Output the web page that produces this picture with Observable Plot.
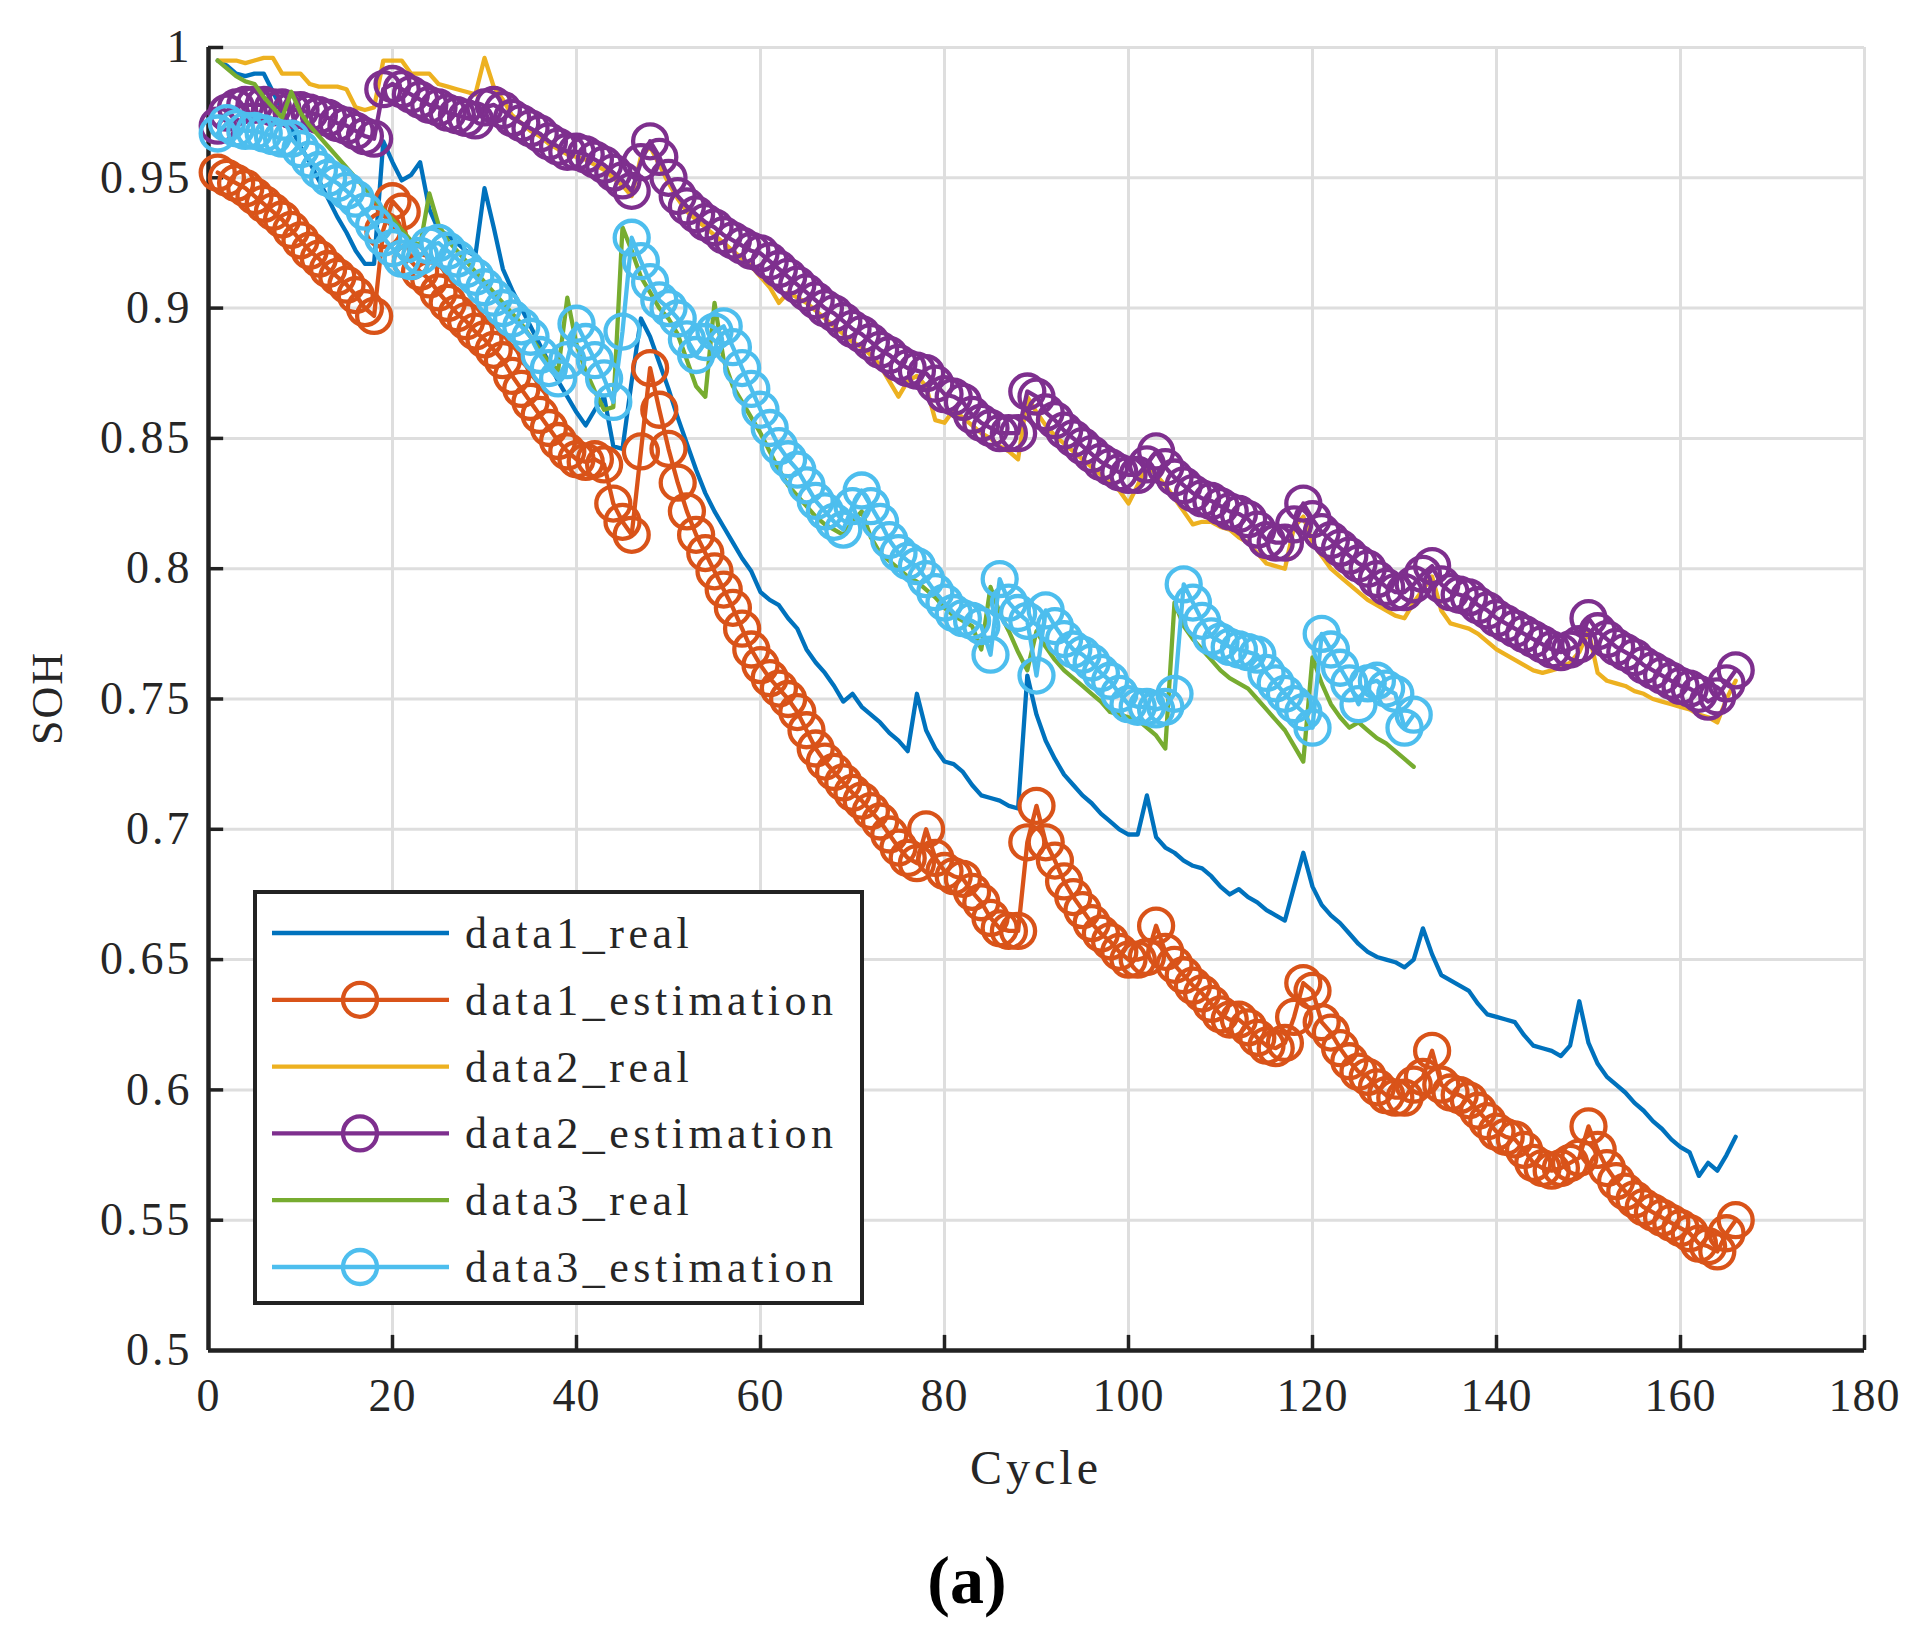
<!DOCTYPE html>
<html>
<head>
<meta charset="utf-8">
<script src="https://cdn.jsdelivr.net/npm/d3@7"></script>
<script src="https://cdn.jsdelivr.net/npm/@observablehq/plot@0.6"></script>
<style>
  html, body { margin: 0; padding: 0; background: #fff; }
  #wrap { position: relative; width: 1910px; height: 1650px; background: #fff; overflow: hidden; }
  #chart { position: absolute; left: 0; top: 0; }
  .lab { position: absolute; font-family: "Liberation Serif", "DejaVu Serif", serif; color: #262626; white-space: nowrap; }
  #legend { position: absolute; box-sizing: border-box; background: #fff; border: 4px solid #222; }
</style>
</head>
<body>
<div id="wrap">
  <div id="chart"></div>
  <div class="lab" id="ylab">SOH</div>
  <div class="lab" id="xlab">Cycle</div>
  <div class="lab" id="cap">(a)</div>
  <div id="legend"></div>
</div>
<script>
// ---- tick values ----
const xTicks = [0, 20, 40, 60, 80, 100, 120, 140, 160, 180];
const yTicks = [0.5, 0.55, 0.6, 0.65, 0.7, 0.75, 0.8, 0.85, 0.9, 0.95, 1];

// ---- series (cycle = index + 1) ----
const data1Real = [
0.995,0.993,0.990,0.989,0.990,0.990,0.983,0.976,0.969,0.962,
0.956,0.949,0.942,0.935,0.929,0.922,0.917,0.917,0.964,0.956,
0.949,0.951,0.956,0.938,0.930,0.928,0.925,0.922,0.920,0.946,
0.931,0.915,0.907,0.900,0.893,0.886,0.879,0.872,0.866,0.860,
0.855,0.861,0.866,0.847,0.846,0.872,0.896,0.889,0.879,0.869,
0.858,0.848,0.838,0.829,0.822,0.816,0.810,0.804,0.799,0.791,
0.788,0.786,0.781,0.777,0.769,0.764,0.760,0.755,0.749,0.752,
0.747,0.744,0.741,0.737,0.734,0.730,0.752,0.738,0.731,0.726,
0.725,0.722,0.717,0.713,0.712,0.711,0.709,0.708,0.759,0.744,
0.734,0.727,0.721,0.717,0.713,0.710,0.706,0.703,0.700,0.698,
0.698,0.713,0.697,0.693,0.691,0.688,0.686,0.685,0.682,0.678,
0.675,0.677,0.674,0.672,0.669,0.667,0.665,0.678,0.691,0.678,
0.671,0.667,0.664,0.660,0.656,0.653,0.651,0.650,0.649,0.647,
0.650,0.662,0.652,0.644,0.642,0.640,0.638,0.633,0.629,0.628,
0.627,0.626,0.621,0.617,0.616,0.615,0.613,0.617,0.634,0.618,
0.610,0.605,0.602,0.599,0.595,0.592,0.588,0.585,0.581,0.578,
0.576,0.567,0.572,0.569,0.575,0.582];

const data1Est = [
0.952,0.950,0.948,0.946,0.943,0.940,0.937,0.934,0.930,0.926,
0.922,0.919,0.915,0.912,0.909,0.905,0.900,0.897,0.930,0.941,
0.937,0.918,0.914,0.911,0.906,0.902,0.898,0.895,0.891,0.888,
0.884,0.880,0.874,0.869,0.864,0.859,0.854,0.849,0.845,0.842,
0.841,0.842,0.840,0.825,0.818,0.813,0.845,0.877,0.861,0.846,
0.833,0.822,0.813,0.806,0.799,0.792,0.785,0.777,0.769,0.763,
0.758,0.754,0.750,0.745,0.738,0.731,0.726,0.722,0.718,0.714,
0.711,0.707,0.703,0.698,0.693,0.689,0.687,0.700,0.689,0.684,
0.682,0.681,0.676,0.672,0.666,0.662,0.661,0.661,0.695,0.709,
0.695,0.688,0.680,0.674,0.669,0.664,0.660,0.657,0.653,0.650,
0.650,0.651,0.663,0.653,0.648,0.644,0.640,0.637,0.633,0.629,
0.627,0.627,0.624,0.620,0.617,0.616,0.618,0.628,0.641,0.638,
0.626,0.622,0.616,0.611,0.607,0.605,0.601,0.598,0.597,0.597,
0.602,0.605,0.615,0.602,0.599,0.598,0.596,0.592,0.588,0.584,
0.582,0.581,0.577,0.572,0.570,0.569,0.570,0.572,0.574,0.586,
0.577,0.570,0.565,0.561,0.558,0.555,0.553,0.551,0.549,0.547,
0.545,0.541,0.540,0.538,0.545,0.550];

const data2Real = [
0.995,0.995,0.995,0.994,0.995,0.996,0.996,0.990,0.990,0.990,
0.986,0.985,0.985,0.985,0.984,0.977,0.976,0.977,0.995,0.995,
0.995,0.990,0.990,0.990,0.986,0.985,0.984,0.983,0.982,0.996,
0.985,0.980,0.974,0.971,0.968,0.966,0.963,0.961,0.959,0.958,
0.957,0.955,0.953,0.950,0.947,0.943,0.958,0.962,0.955,0.948,
0.942,0.937,0.934,0.931,0.928,0.925,0.922,0.919,0.916,0.912,
0.908,0.902,0.906,0.904,0.902,0.899,0.896,0.893,0.890,0.887,
0.885,0.882,0.878,0.872,0.866,0.872,0.874,0.870,0.857,0.856,
0.861,0.858,0.855,0.852,0.850,0.847,0.845,0.842,0.866,0.860,
0.855,0.851,0.848,0.845,0.842,0.839,0.836,0.833,0.830,0.825,
0.832,0.840,0.836,0.832,0.827,0.822,0.817,0.818,0.818,0.816,
0.815,0.812,0.810,0.806,0.802,0.801,0.800,0.816,0.820,0.810,
0.805,0.800,0.797,0.794,0.791,0.788,0.786,0.784,0.782,0.781,
0.787,0.792,0.797,0.784,0.779,0.778,0.777,0.775,0.772,0.769,
0.767,0.765,0.763,0.761,0.760,0.761,0.762,0.764,0.768,0.776,
0.760,0.757,0.756,0.755,0.753,0.752,0.750,0.749,0.748,0.747,
0.746,0.744,0.743,0.741,0.750,0.757];

const data2Est = [
0.970,0.975,0.977,0.978,0.978,0.978,0.977,0.977,0.976,0.976,
0.975,0.974,0.973,0.971,0.970,0.968,0.966,0.965,0.984,0.986,
0.984,0.982,0.980,0.978,0.977,0.975,0.974,0.973,0.972,0.977,
0.978,0.976,0.973,0.971,0.969,0.967,0.964,0.962,0.960,0.960,
0.959,0.957,0.955,0.952,0.949,0.945,0.956,0.964,0.958,0.950,
0.943,0.939,0.936,0.933,0.931,0.928,0.926,0.924,0.922,0.921,
0.918,0.915,0.912,0.909,0.906,0.903,0.900,0.898,0.895,0.892,
0.890,0.887,0.884,0.882,0.879,0.877,0.876,0.875,0.871,0.867,
0.866,0.864,0.859,0.856,0.854,0.852,0.852,0.852,0.868,0.866,
0.860,0.857,0.853,0.850,0.847,0.844,0.841,0.839,0.837,0.836,
0.836,0.840,0.845,0.839,0.835,0.832,0.829,0.827,0.826,0.824,
0.822,0.821,0.819,0.815,0.811,0.810,0.810,0.817,0.825,0.819,
0.814,0.811,0.808,0.805,0.802,0.800,0.796,0.793,0.791,0.791,
0.794,0.798,0.801,0.794,0.791,0.790,0.789,0.786,0.784,0.781,
0.779,0.777,0.775,0.773,0.771,0.769,0.768,0.769,0.771,0.781,
0.776,0.773,0.770,0.768,0.766,0.763,0.761,0.759,0.757,0.755,
0.754,0.752,0.749,0.751,0.756,0.761];

const data3Real = [
0.995,0.992,0.989,0.987,0.986,0.981,0.977,0.973,0.983,0.975,
0.970,0.966,0.962,0.958,0.954,0.950,0.946,0.942,0.938,0.934,
0.930,0.926,0.924,0.944,0.932,0.926,0.922,0.918,0.914,0.910,
0.906,0.902,0.898,0.894,0.889,0.884,0.879,0.876,0.904,0.886,
0.876,0.868,0.861,0.862,0.931,0.922,0.912,0.906,0.900,0.896,
0.890,0.880,0.870,0.866,0.902,0.880,0.870,0.864,0.858,0.852,
0.845,0.838,0.832,0.828,0.824,0.820,0.817,0.815,0.813,0.818,
0.822,0.812,0.806,0.803,0.800,0.797,0.795,0.792,0.789,0.785,
0.782,0.780,0.778,0.769,0.793,0.783,0.776,0.768,0.761,0.776,
0.770,0.765,0.761,0.758,0.755,0.752,0.749,0.745,0.744,0.743,
0.742,0.739,0.736,0.731,0.787,0.778,0.773,0.769,0.765,0.761,
0.758,0.756,0.754,0.750,0.746,0.742,0.738,0.732,0.726,0.766,
0.756,0.748,0.743,0.739,0.741,0.738,0.735,0.733,0.730,0.727,
0.724];

const data3Est = [
0.967,0.971,0.969,0.968,0.968,0.967,0.966,0.965,0.965,0.961,
0.957,0.953,0.950,0.948,0.945,0.942,0.937,0.932,0.927,0.923,
0.919,0.918,0.920,0.924,0.925,0.922,0.919,0.915,0.912,0.908,
0.904,0.900,0.896,0.893,0.889,0.882,0.877,0.873,0.880,0.894,
0.887,0.880,0.873,0.864,0.891,0.927,0.918,0.910,0.903,0.900,
0.896,0.888,0.882,0.887,0.891,0.893,0.885,0.877,0.869,0.861,
0.854,0.847,0.842,0.838,0.832,0.826,0.822,0.818,0.815,0.824,
0.830,0.824,0.818,0.811,0.806,0.803,0.801,0.796,0.791,0.787,
0.783,0.781,0.780,0.778,0.767,0.796,0.787,0.783,0.780,0.759,
0.784,0.778,0.773,0.769,0.767,0.764,0.760,0.757,0.752,0.748,
0.747,0.747,0.746,0.747,0.752,0.794,0.787,0.780,0.774,0.772,
0.770,0.769,0.768,0.767,0.760,0.756,0.752,0.748,0.745,0.739,
0.775,0.769,0.762,0.756,0.748,0.756,0.757,0.754,0.752,0.739,
0.744];

const seriesNames = ["data1_real", "data1_estimation", "data2_real", "data2_estimation", "data3_real", "data3_estimation"];
const seriesColors = ["#0072BD", "#D95319", "#EDB120", "#7E2F8E", "#77AC30", "#4DBEEE"];
const seriesMarker = [false, true, false, true, false, true];
const seriesValues = [data1Real, data1Est, data2Real, data2Est, data3Real, data3Est];

const rowsOf = (arr) => arr.map((v, i) => ({cycle: i + 1, soh: v}));

const gridColor = "#dedede";
const axisColor = "#222";
const fontFam = "'Liberation Serif', 'DejaVu Serif', serif";
const lw = 4.3;

const marks = [
  Plot.ruleX(xTicks.slice(1), {stroke: gridColor, strokeWidth: 3}),
  Plot.ruleY(yTicks.slice(1), {stroke: gridColor, strokeWidth: 3}),
  Plot.ruleX([0], {stroke: axisColor, strokeWidth: 4.5}),
  Plot.ruleY([0.5], {stroke: axisColor, strokeWidth: 4.5}),
  Plot.ruleX(xTicks.slice(1), {y1: 0.5, y2: 0.5058, stroke: axisColor, strokeWidth: 3.5}),
  Plot.ruleY(yTicks.slice(1), {x1: 0, x2: 1.65, stroke: axisColor, strokeWidth: 3.5}),
  Plot.axisX({ticks: xTicks, tickSize: 0, tickPadding: 28, fontSize: 46, label: null, tickFormat: d => String(d)}),
  Plot.axisY({ticks: yTicks, tickSize: 0, tickPadding: 16, fontSize: 46, label: null, tickFormat: d => String(d)})
];

seriesValues.forEach((vals, k) => {
  const rows = rowsOf(vals);
  marks.push(Plot.line(rows, {x: "cycle", y: "soh", stroke: seriesColors[k], strokeWidth: lw}));
  if (seriesMarker[k]) {
    marks.push(Plot.dot(rows, {x: "cycle", y: "soh", r: 17, fill: "none", stroke: seriesColors[k], strokeWidth: lw}));
  }
});

const chart = Plot.plot({
  width: 1910,
  height: 1510,
  marginLeft: 208,
  marginRight: 46,
  marginTop: 47,
  marginBottom: 160,
  x: {domain: [0, 180]},
  y: {domain: [0.5, 1]},
  style: {fontFamily: fontFam, background: "white", color: "#262626", overflow: "visible"},
  marks
});
document.getElementById("chart").appendChild(chart);

d3.select(chart).selectAll("text").style("font-family", fontFam);
d3.select(chart).selectAll('g[aria-label="y-axis tick label"] text').style("letter-spacing", "3px");
d3.select(chart).selectAll('g[aria-label="x-axis tick label"] text').style("letter-spacing", "1px");

// ---- labels ----
const ylab = document.getElementById("ylab");
Object.assign(ylab.style, {fontSize: "44px", letterSpacing: "2px", left: "47px", top: "698px",
  transform: "translate(-50%,-50%) rotate(-90deg)", transformOrigin: "center"});
const xlab = document.getElementById("xlab");
Object.assign(xlab.style, {fontSize: "48px", letterSpacing: "4px", left: "1036px", top: "1467px",
  transform: "translate(-50%,-50%)"});
const cap = document.getElementById("cap");
Object.assign(cap.style, {fontSize: "68px", fontWeight: "bold", color: "#000", left: "967px", top: "1580px",
  transform: "translate(-50%,-50%)"});

// ---- legend ----
const lg = document.getElementById("legend");
Object.assign(lg.style, {left: "253px", top: "890px", width: "611px", height: "415px"});
const lsvg = d3.select(lg).append("svg").attr("width", 603).attr("height", 407)
  .style("position", "absolute").style("left", "0px").style("top", "0px");
const rowY = k => 39 + k * 66.8;
seriesNames.forEach((name, k) => {
  const y = rowY(k);
  lsvg.append("line").attr("x1", 15).attr("x2", 192).attr("y1", y).attr("y2", y)
    .attr("stroke", seriesColors[k]).attr("stroke-width", lw);
  if (seriesMarker[k]) {
    lsvg.append("circle").attr("cx", 103).attr("cy", y).attr("r", 17)
      .attr("fill", "none").attr("stroke", seriesColors[k]).attr("stroke-width", lw);
  }
  lsvg.append("text").attr("x", 208).attr("y", y).attr("dy", "0.34em")
    .style("font-family", fontFam).attr("font-size", 44)
    .attr("fill", "#262626").style("letter-spacing", "4.5px").text(name);
});
</script>
</body>
</html>
